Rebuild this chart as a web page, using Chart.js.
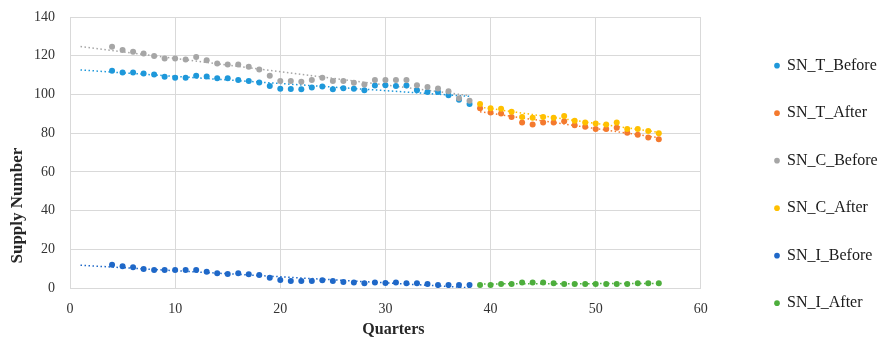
<!DOCTYPE html>
<html>
<head>
<meta charset="utf-8">
<script src="https://cdn.jsdelivr.net/npm/chart.js@4/dist/chart.umd.min.js"></script>
<style>
  html, body { margin: 0; padding: 0; background: #ffffff; }
  #wrap { width: 878px; height: 340px; }
</style>
</head>
<body>
<div id="wrap"><canvas id="c" width="878" height="340"></canvas></div>
<script>
// ---- data ----
const quartersBefore = [4,5,6,7,8,9,10,11,12,13,14,15,16,17,18,19,20,21,22,23,24,25,26,27,28,29,30,31,32,33,34,35,36,37,38];
const quartersAfter  = [39,40,41,42,43,44,45,46,47,48,49,50,51,52,53,54,55,56];

const snTBefore = [112.2,111.3,111.3,110.8,110.3,109.1,108.6,108.6,109.6,109.3,108.3,108.3,107.4,107.0,106.2,104.3,102.9,102.8,102.7,103.6,104.1,102.7,103.2,102.9,102.2,104.6,104.8,104.3,104.6,102.2,101.3,101.3,99.6,97.2,95.0];
const snTAfter  = [92.8,90.7,90.2,88.4,85.5,84.5,85.5,85.5,86.2,84.1,83.3,82.2,82.2,82.8,80.2,79.2,77.8,76.8];
const snCBefore = [124.6,122.9,122.0,121.2,119.9,118.6,118.6,118.1,119.4,117.7,116.0,115.5,115.5,114.3,112.9,109.6,107.0,106.9,106.5,107.4,108.6,107.0,107.0,106.0,105.1,107.4,107.4,107.4,107.4,104.8,103.9,103.1,101.7,98.0,96.7];
const snCAfter  = [95.0,92.8,92.6,91.0,88.4,87.9,88.3,87.9,88.8,86.4,85.5,85.0,84.5,85.5,82.1,82.1,81.1,79.9];
const snIBefore = [12.0,11.2,10.7,9.8,9.3,9.3,9.3,9.3,9.3,8.4,7.6,7.2,7.6,7.1,6.7,5.3,4.1,3.6,3.6,3.6,4.0,3.6,3.1,2.8,2.4,2.8,2.6,2.9,2.4,2.4,2.1,1.5,1.5,1.5,1.5];
const snIAfter  = [1.6,1.6,2.1,2.1,2.8,2.8,2.8,2.4,2.1,2.1,2.1,2.1,2.1,2.1,2.1,2.4,2.4,2.4];

const seriesNames = ['SN_T_Before','SN_T_After','SN_C_Before','SN_C_After','SN_I_Before','SN_I_After'];
const seriesColors = ['#1E98DA','#F47A2E','#A6A6A6','#FFC000','#1F68C8','#4DAE3C'];
const trendFrom = [1, 39, 1, 39, 1, 39];
const trendTo   = [38, 56, 38, 56, 38, 56];

const xTicks = [0,10,20,30,40,50,60];
const yTicks = [0,20,40,60,80,100,120,140];

const xTitle = 'Quarters';
const yTitle = 'Supply Number';

// ---- build datasets ----
const xsList = [quartersBefore, quartersAfter, quartersBefore, quartersAfter, quartersBefore, quartersAfter];
const ysList = [snTBefore, snTAfter, snCBefore, snCAfter, snIBefore, snIAfter];

function linReg(xs, ys) {
  const n = xs.length;
  let sx = 0, sy = 0, sxx = 0, sxy = 0;
  for (let i = 0; i < n; i++) { sx += xs[i]; sy += ys[i]; sxx += xs[i]*xs[i]; sxy += xs[i]*ys[i]; }
  const b = (n*sxy - sx*sy) / (n*sxx - sx*sx);
  const a = (sy - b*sx) / n;
  return x => a + b*x;
}

const datasets = [];
seriesNames.forEach((name, i) => {
  datasets.push({
    label: name,
    data: xsList[i].map((x, k) => ({x: x, y: ysList[i][k]})),
    backgroundColor: seriesColors[i],
    borderColor: seriesColors[i],
    pointRadius: 3,
    pointHoverRadius: 3,
    pointBorderWidth: 0,
    showLine: false,
    order: 20 - i
  });
});
seriesNames.forEach((name, i) => {
  const f = linReg(xsList[i], ysList[i]);
  datasets.push({
    label: name + ' trend',
    isTrend: true,
    data: [{x: trendFrom[i], y: f(trendFrom[i])}, {x: trendTo[i], y: f(trendTo[i])}],
    borderColor: seriesColors[i],
    backgroundColor: seriesColors[i],
    borderWidth: 1.5,
    borderDash: [1.5, 2.5],
    pointRadius: 0,
    showLine: true,
    order: 100 - i
  });
});

const legendShift = {
  id: 'legendShift',
  afterUpdate(chart) {
    const l = chart.legend;
    if (!l) return;
    const dx = 743.5 - l.left;
    const dy = 26.2 - l.top;
    l.left += dx; l.right += dx;
    l.top += dy; l.bottom += dy;
  }
};

const serif = "'Liberation Serif', 'Times New Roman', serif";

new Chart(document.getElementById('c'), {
  type: 'scatter',
  data: { datasets: datasets },
  plugins: [legendShift],
  options: {
    responsive: false,
    animation: false,
    layout: { padding: { left: 0, right: 33, top: 17, bottom: 0 } },
    plugins: {
      tooltip: { enabled: false },
      legend: {
        position: 'right',
        align: 'start',
        labels: {
          usePointStyle: true,
          pointStyle: 'circle',
          boxWidth: 4,
          boxHeight: 4,
          padding: 31.5,
          color: '#1a1a1a',
          font: { family: serif, size: 16 },
          filter: (item, data) => !data.datasets[item.datasetIndex].isTrend,
          sort: (a, b) => a.datasetIndex - b.datasetIndex
        }
      }
    },
    scales: {
      x: {
        type: 'linear',
        min: 0, max: 60,
        afterBuildTicks: s => { s.ticks = xTicks.map(v => ({value: v})); },
        ticks: { color: '#333333', font: { family: serif, size: 14 }, padding: 12.5 },
        grid: { color: '#d9d9d9', drawTicks: false },
        border: { color: '#d9d9d9' },
        title: { display: true, text: '    ' + xTitle, color: '#262626', font: { family: serif, size: 16, weight: 'bold' }, padding: { top: -9.4, bottom: 0.4 } }
      },
      y: {
        type: 'linear',
        min: 0, max: 140,
        afterBuildTicks: s => { s.ticks = yTicks.map(v => ({value: v})); },
        afterFit: s => { s.paddingTop = 0; s.paddingBottom = 0; },
        ticks: { color: '#333333', font: { family: serif, size: 14 }, padding: 15 },
        grid: { color: '#d9d9d9', drawTicks: false },
        border: { color: '#d9d9d9' },
        title: { display: true, text: yTitle + ' '.repeat(25), color: '#262626', font: { family: serif, size: 17, weight: 'bold', lineHeight: 1 }, padding: { top: 9.5, bottom: -7.5 } }
      }
    }
  }
});
</script>
</body>
</html>
